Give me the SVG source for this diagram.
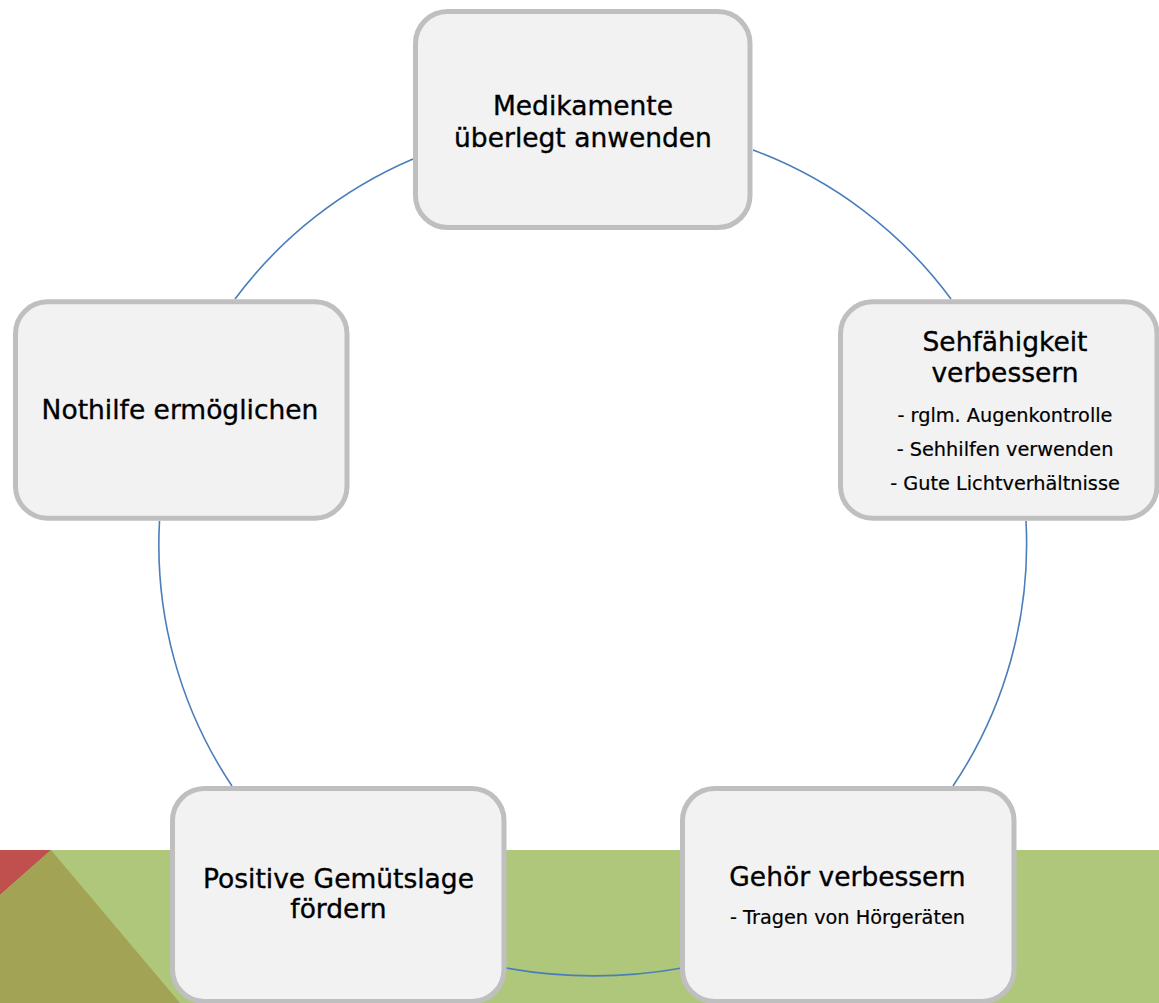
<svg xmlns="http://www.w3.org/2000/svg" width="1159" height="1003" viewBox="0 0 1159 1003">
<style>
.box{fill:#f2f2f2;stroke:#bfbfbf;stroke-width:5}
.t{font-family:"DejaVu Sans","Liberation Sans",sans-serif;font-size:26.5px;fill:#000;stroke:#000;stroke-width:0.35;text-anchor:middle}
.s{font-family:"DejaVu Sans","Liberation Sans",sans-serif;font-size:19.3px;fill:#000;stroke:#000;stroke-width:0.2;text-anchor:middle}
.arc{fill:none;stroke:#4a7ebb;stroke-width:1.6}
</style>
<rect x="0" y="0" width="1159" height="1003" fill="#ffffff"/>
<g id="background">
<rect x="0" y="850" width="1159" height="153" fill="#afc77a"/>
<polygon points="0,850 51,850 0,895" fill="#c0504d"/>
<polygon points="51,850 180,1003 0,1003 0,895" fill="#a3a355"/>
</g>
<g id="connectors">
<path class="arc" d="M753,150 A434,434 0 0 1 951,299"/>
<path class="arc" d="M1026,521 A434,434 0 0 1 953,786"/>
<path class="arc" d="M682,968 A500,500 0 0 1 506,968"/>
<path class="arc" d="M232,786 A434,434 0 0 1 159.5,521"/>
<path class="arc" d="M235,299 A434,434 0 0 1 413,159"/>
</g>
<g id="node-medikamente">
<rect class="box" x="415.5" y="11.5" width="334.5" height="216" rx="32"/>
<text class="t" x="583" y="115">Medikamente</text>
<text class="t" x="583" y="147">überlegt anwenden</text>
</g>
<g id="node-sehfaehigkeit">
<rect class="box" x="840.5" y="301.8" width="316.5" height="216.4" rx="32"/>
<text class="t" x="1005" y="351">Sehfähigkeit</text>
<text class="t" x="1005" y="382">verbessern</text>
<text class="s" x="1005" y="421.5">- rglm. Augenkontrolle</text>
<text class="s" x="1005" y="455.5">- Sehhilfen verwenden</text>
<text class="s" x="1005" y="490">- Gute Lichtverhältnisse</text>
</g>
<g id="node-gehoer">
<rect class="box" x="682.5" y="788.5" width="331.5" height="213" rx="32"/>
<text class="t" x="847.5" y="886">Gehör verbessern</text>
<text class="s" x="847.5" y="924">- Tragen von Hörgeräten</text>
</g>
<g id="node-gemuetslage">
<rect class="box" x="172.5" y="788.5" width="331.5" height="213" rx="32"/>
<text class="t" x="338.5" y="888">Positive Gemütslage</text>
<text class="t" x="338.5" y="918">fördern</text>
</g>
<g id="node-nothilfe">
<rect class="box" x="15.5" y="301.8" width="331.5" height="216.4" rx="32"/>
<text class="t" x="180" y="419">Nothilfe ermöglichen</text>
</g>
</svg>
